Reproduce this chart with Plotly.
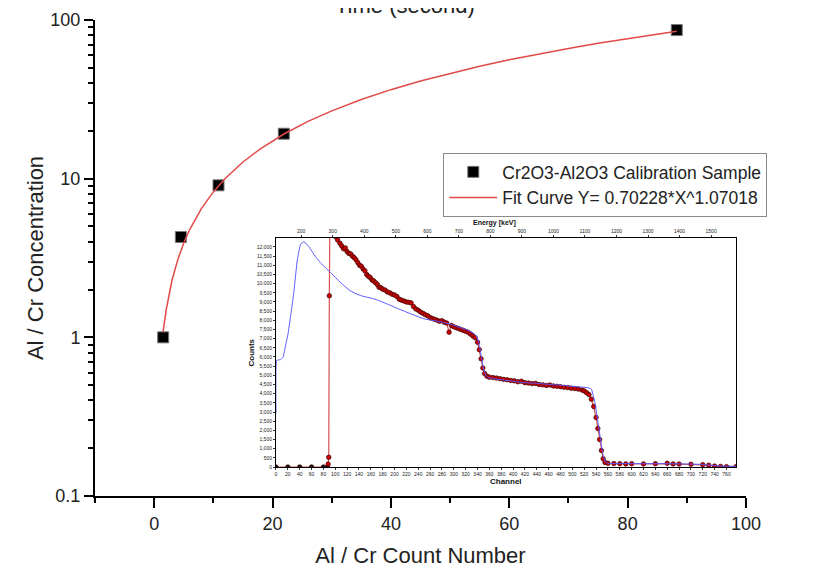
import plotly.graph_objects as go

# ---------------- main calibration data ----------------
cal_x = [1.52, 4.51, 10.87, 21.9, 88.3]
cal_y = [1.0, 4.29, 9.08, 19.2, 86.4]

fit_x = [1.5, 2, 3, 4, 5, 6, 8, 10, 12, 15, 18, 22, 26, 30, 35, 40, 45, 50,
         55, 60, 65, 70, 75, 80, 85, 88.3]
fit_y = [1.08, 1.47, 2.28, 3.10, 3.93, 4.78, 6.50, 8.25, 10.03, 12.74, 15.48,
         19.19, 22.95, 26.75, 31.55, 36.39, 41.28, 46.20, 51.17, 56.16, 61.19,
         66.23, 71.32, 76.42, 81.55, 84.93]

# ---------------- inset spectrum data ----------------
model_ch = [0, 1, 4, 8, 12, 16, 20, 25, 30, 36, 41, 46, 52, 58, 66, 75, 84, 92,
            103, 115, 125, 135, 145, 155, 165, 175, 190, 205, 220, 235, 250,
            265, 280, 295, 310, 322, 332, 338, 342, 346, 350, 354, 358, 364,
            372, 385, 400, 420, 440, 460, 480, 500, 515, 525, 532, 538, 543,
            547, 551, 555, 560, 580, 620, 660, 700, 720, 735, 750, 776]
model_counts = [2930, 5800, 5840, 5860, 6000, 6600, 7200, 8300, 9500, 11300,
                12100, 12290, 12150, 11900, 11500, 11150, 10850, 10610, 10250,
                9880, 9620, 9450, 9330, 9250, 9175, 9060, 8860, 8650, 8450,
                8260, 8080, 7990, 7900, 7780, 7620, 7480, 7320, 7150, 6800,
                6100, 5400, 5000, 4880, 4840, 4800, 4740, 4680, 4600, 4560,
                4510, 4460, 4400, 4360, 4330, 4250, 3500, 2500, 1600, 800, 300,
                200, 190, 180, 180, 160, 140, 90, 50, 40]

meas_ch = [0, 20, 40, 60, 80, 87, 88, 89, 90, 91, 101, 104, 108, 111, 114, 117,
           120, 123, 126, 129, 132, 135, 138, 141, 144, 147, 150, 153, 156, 159,
           162, 165, 168, 171, 174, 177, 180, 184, 188, 192, 196, 200, 204, 208,
           212, 216, 220, 224, 228, 232, 236, 240, 244, 248, 252, 256, 260, 264,
           268, 272, 276, 280, 284, 288, 292, 296, 300, 304, 308, 312, 316, 320,
           324, 328, 332, 336, 340, 343, 346, 349, 352, 356, 360, 366, 372, 378,
           384, 390, 396, 402, 408, 414, 420, 426, 432, 438, 444, 450, 456, 462,
           468, 474, 480, 486, 492, 498, 504, 510, 516, 520, 524, 528, 532, 536,
           540, 543, 546, 549, 552, 555, 560, 570, 580, 590, 600, 620, 640, 660,
           670, 680, 700, 720, 730, 740, 750, 760, 776]
meas_counts = [0, 0, 0, 0, 0, 0, 160, 530, 9340, 14000, 12550, 12380, 12200,
               12050, 11900, 11950, 11750, 11650, 11620, 11500, 11420, 11300,
               11150, 11000, 10950, 10800, 10700, 10500, 10400, 10330, 10200,
               10150, 10050, 9950, 9800, 9780, 9700, 9650, 9550, 9500, 9420,
               9380, 9300, 9150, 9100, 9050, 9000, 8980, 8950, 8750, 8620, 8550,
               8450, 8380, 8300, 8250, 8150, 8100, 8050, 8000, 7950, 7980, 7900,
               7850, 7350, 7720, 7650, 7600, 7550, 7500, 7450, 7400, 7350, 7250,
               7150, 7050, 6800, 6400, 5900, 5400, 5100, 4950, 4900, 4880, 4850,
               4820, 4780, 4760, 4720, 4700, 4650, 4680, 4600, 4580, 4550, 4560,
               4500, 4480, 4450, 4470, 4420, 4400, 4380, 4350, 4330, 4300, 4280,
               4250, 4200, 4150, 4050, 3950, 3700, 3300, 2700, 2100, 1500, 900,
               450, 250, 200, 190, 180, 170, 180, 170, 180, 200, 170, 160, 150,
               130, 100, 50, 30, 20, 20]

# energy calibration of the top axis (keV = E0 + slope * channel)
E0, slope = 120.0, 1.88
energy_ticks = [200, 300, 400, 500, 600, 700, 800, 900, 1000, 1100, 1200,
                1300, 1400, 1500]

FONT = "Liberation Sans, Arial, sans-serif"
TXT = "#222222"

fig = go.Figure()

fig.add_trace(go.Scatter(
    x=cal_x, y=cal_y, mode="markers",
    marker=dict(symbol="square", size=11, color="black",
                line=dict(color="#777777", width=1)),
    name="Cr2O3-Al2O3 Calibration Sample", xaxis="x", yaxis="y"))
fig.add_trace(go.Scatter(
    x=fit_x, y=fit_y, mode="lines",
    line=dict(color="#e04a48", width=1.5),
    name="Fit Curve Y= 0.70228*X^1.07018", xaxis="x", yaxis="y"))

# inset traces
meas_colors = ["#111111" if c == 0 else "#cc0000" for c in meas_counts]
fig.add_trace(go.Scatter(
    x=meas_ch, y=meas_counts, mode="lines+markers",
    line=dict(color="#d85050", width=1.2),
    marker=dict(size=4.5, color=meas_colors,
                line=dict(color="#3a0000", width=0.7)),
    showlegend=False, xaxis="x2", yaxis="y2"))
fig.add_trace(go.Scatter(
    x=model_ch, y=model_counts, mode="lines",
    line=dict(color="#5a5aff", width=1, shape="spline", smoothing=0.4),
    showlegend=False, xaxis="x3", yaxis="y2"))

inset_x = [0.278, 0.9846]
inset_y = [0.0609, 0.542]

small_tick = dict(ticks="outside", ticklen=2, tickwidth=0.6, tickcolor="#333",
                  showgrid=False, zeroline=False, automargin=False,
                  tickfont=dict(size=5, family=FONT, color=TXT))

fig.update_layout(
    width=830, height=572,
    margin=dict(l=87, r=92, t=12, b=84, autoexpand=False),
    paper_bgcolor="white", plot_bgcolor="white",
    font=dict(family=FONT, color=TXT),
    showlegend=True,
    legend=dict(x=0.535, y=0.7206, xanchor="left", yanchor="top",
                bordercolor="#8a8a8a", borderwidth=1, bgcolor="white",
                font=dict(size=17.5, family=FONT, color=TXT),
                itemwidth=48, tracegroupgap=0),
    xaxis=dict(domain=[0, 1], range=[-10, 100], tick0=0, dtick=20,
               showline=True, linecolor="black", linewidth=2,
               ticks="outside", ticklen=10, tickwidth=2, tickcolor="black",
               minor=dict(dtick=10, tick0=0, ticks="outside", ticklen=5,
                          tickwidth=2, tickcolor="black"),
               showgrid=False, zeroline=False, anchor="y", automargin=False,
               tickfont=dict(size=18, family=FONT, color=TXT),
               title=dict(text="Al / Cr Count Number", standoff=15,
                          font=dict(size=22, family=FONT, color=TXT))),
    yaxis=dict(domain=[0, 1], type="log", range=[-1, 2], dtick=1,
               showline=True, linecolor="black", linewidth=2,
               ticks="outside", ticklen=9, tickwidth=2, tickcolor="black",
               minor=dict(dtick="D1", ticks="outside", ticklen=5,
                          tickwidth=1.5, tickcolor="black"),
               showgrid=False, zeroline=False, anchor="x", automargin=False,
               tickfont=dict(size=18, family=FONT, color=TXT),
               title=dict(text="Al / Cr Concentration", standoff=1,
                          font=dict(size=22, family=FONT, color=TXT))),
    xaxis2=dict(domain=inset_x, range=[0, 776], anchor="y2", dtick=20, tick0=0,
                showline=True, mirror=True, linecolor="black", linewidth=1,
                **small_tick),
    xaxis3=dict(range=[0, 776], overlaying="x2", anchor="y2", side="top",
                tickmode="array",
                tickvals=[(e - E0) / slope for e in energy_ticks],
                ticktext=[str(e) for e in energy_ticks],
                showline=False, **small_tick),
    yaxis2=dict(domain=inset_y, range=[0, 12490], anchor="x2", dtick=500,
                tick0=0, tickformat=",",
                showline=True, mirror=True, linecolor="black", linewidth=1,
                **small_tick),
    shapes=[dict(type="rect", xref="x2 domain", yref="y2 domain",
                 x0=0, x1=1, y0=0, y1=1, fillcolor="#c0c0c0",
                 line=dict(width=0), layer="below")],
    annotations=[
        dict(text="Time (second)", xref="paper", yref="paper", x=0.476, y=1,
             xanchor="center", yanchor="middle", yshift=15, showarrow=False,
             font=dict(size=22, family=FONT, color=TXT)),
        dict(text="<b>Energy [keV]</b>", xref="x2 domain", yref="y2 domain",
             x=0.475, y=1, yshift=9, xanchor="center", yanchor="bottom",
             showarrow=False, font=dict(size=7, family=FONT, color="#111")),
        dict(text="<b>Channel</b>", xref="x2 domain", yref="y2 domain",
             x=0.5, y=0, yshift=-8, xanchor="center", yanchor="top",
             showarrow=False, font=dict(size=8, family=FONT, color="#111")),
        dict(text="<b>Counts</b>", xref="x2 domain", yref="y2 domain",
             x=0, xshift=-24, y=0.5, xanchor="center", yanchor="middle",
             textangle=-90, showarrow=False,
             font=dict(size=8, family=FONT, color="#111")),
    ],
)

fig.write_html("out.html")
